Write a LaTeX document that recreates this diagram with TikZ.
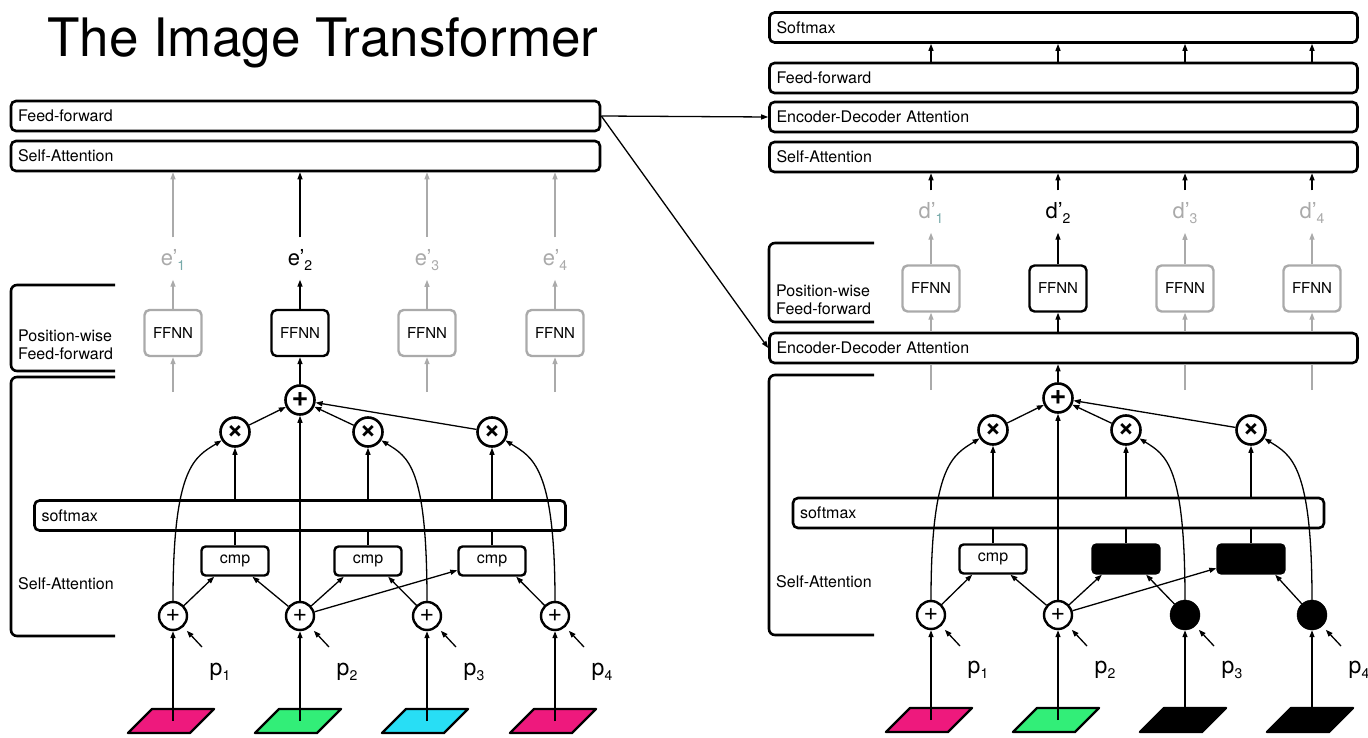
\documentclass[tikz,border=0pt]{standalone}
\usepackage{fontspec}
\setmainfont{TeX Gyre Heros}
\usetikzlibrary{arrows.meta}
\definecolor{lgray}{RGB}{170,170,170}
\definecolor{tealgray}{RGB}{120,170,170}
\definecolor{pink}{RGB}{238,25,125}
\definecolor{lime}{RGB}{50,238,120}
\definecolor{sky}{RGB}{40,222,245}
\newcommand{\sub}[1]{\raisebox{-5pt}{\fontsize{14}{14}\selectfont #1}}

\begin{document}
\begin{tikzpicture}[x=1pt,y=-1pt,
    font=\fontsize{16}{18}\selectfont,
    bar/.style={draw, line width=2.6pt, rounded corners=5pt, minimum height=30pt, text width=#1, inner xsep=7pt, align=left},
    ffnn/.style={draw, line width=2.4pt, rounded corners=5pt, minimum width=57pt, minimum height=46pt, inner sep=0pt, font=\fontsize{15}{15}\selectfont},
    cmpbox/.style={draw, line width=2.4pt, rounded corners=4pt, minimum width=67pt, minimum height=29pt, inner sep=0pt},
    plus/.style={draw, circle, line width=2.4pt, minimum size=28pt, inner sep=0pt, font=\fontsize{25}{25}\selectfont},
    op/.style={draw, circle, line width=2.6pt, minimum size=29pt, inner sep=0pt, font=\fontsize{29}{29}\selectfont\bfseries},
    dot/.style={draw, circle, fill, minimum size=30pt, inner sep=0pt},
    tileline/.style={draw, line width=2.4pt, line join=round},
    bracket/.style={line width=2.6pt, rounded corners=6pt},
    lab/.style={inner sep=0pt, font=\fontsize{22}{22}\selectfont},
    plab/.style={inner sep=0pt, font=\fontsize{23}{23}\selectfont},
    arr/.style={-{Triangle[length=7pt,width=5pt]}, line width=1.3pt},
    garr/.style={arr, lgray},
    ]
    \useasboundingbox (0,0) rectangle (1368,738);

    \node[anchor=base west, inner sep=0pt, font=\fontsize{53}{53}\selectfont] (title) at (47,57) {The Image Transformer};

    % encoder
    \node[bar=575pt] (LFF) at (305.5,116) {Feed-forward};
    \node[bar=575pt] (LSA) at (305.5,156) {Self-Attention};

    \draw[bracket] (115,285) -- (11,285) -- (11,371) -- (115,371);
    \draw[bracket] (115,377) -- (11,377) -- (11,636) -- (115,636);
    \node[anchor=west, align=left, inner sep=0pt] (LPWlab) at (18,345) {Position-wise\\Feed-forward};
    \node[anchor=west, inner sep=0pt] (LSAlab) at (18,584) {Self-Attention};

    \foreach \i/\x/\s in {1/173/tealgray, 3/427/lgray, 4/555/lgray} {
        \node[ffnn, draw=lgray] (Lf\i) at (\x,333) {FFNN};
        \node[lab, lgray] (Le\i) at (\x,260) {e’\sub{\textcolor{\s}{\i}}};
        \coordinate (Ls\i) at (\x,392);
        \draw[garr] (Ls\i) -- (Lf\i);
        \draw[garr, shorten >=9pt] (Lf\i) -- (Le\i);
        \draw[garr, shorten <=12pt] (Le\i) -- (Le\i |- LSA.south);
    }
    \node[ffnn] (Lf2) at (300,333) {FFNN};
    \node[lab] (Le2) at (300,260) {e’\sub{2}};
    \draw[arr, shorten >=9pt] (Lf2) -- (Le2);
    \draw[arr, shorten <=12pt] (Le2) -- (Le2 |- LSA.south);

    \node[op] (Lsum) at (300,400) {+};
    \foreach \i/\x in {1/235, 2/368, 3/492} {
        \node[op] (Lm\i) at (\x,432) {×};
        \node[cmpbox] (Lc\i) at (\x,561) {cmp};
    }
    \node[bar=517pt] (Lsm) at (300,515.5) {softmax};

    \foreach \i/\x/\c in {1/173/pink, 2/300/lime, 3/427/sky, 4/555/pink} {
        \coordinate (Lt\i) at (\x,721);
        \draw[tileline, fill=\c] ([shift={(-45,12)}]Lt\i) -- ++(62,0) -- ++(24,-24) -- ++(-62,0) -- cycle;
        \node[plus] (La\i) at (\x,616) {+};
        \node[plab] (Lp\i) at (\x+47,672) {p\sub{\i}};
        \coordinate (Lq\i) at (\x+29,647);
        \draw[arr] (Lt\i) -- (La\i);
        \draw[arr, shorten >=5pt] (Lq\i) -- (La\i);
    }

    \foreach \i in {1,2,3} {
        \draw[line width=1.3pt] (Lc\i) -- (Lc\i |- Lsm.south);
        \draw[arr] (Lm\i |- Lsm.north) -- (Lm\i);
        \draw[arr] (Lm\i) -- (Lsum);
    }
    \draw[arr] (La2) -- (Lsum);
    \draw[arr] (Lsum) -- (Lf2);
    \draw[arr] (La1) -- (Lc1.-143);
    \draw[arr] (La2) -- (Lc1.-42);
    \draw[arr] (La2) -- (Lc2.-147);
    \draw[arr] (La2) -- (Lc3.-165);
    \draw[arr] (La3) -- (Lc2.-38);
    \draw[arr] (La4) -- (Lc3.-33);
    \draw[arr] (La1) .. controls +(0,-150) and +(-40,25) .. (Lm1);
    \draw[arr] (La3) .. controls +(0,-150) and +(40,25) .. (Lm2);
    \draw[arr] (La4) .. controls +(0,-150) and +(40,25) .. (Lm3);

    % decoder
    \node[bar=574pt] (RSM) at (1063.5,27.5) {Softmax};
    \node[bar=574pt] (RFF) at (1063.5,78) {Feed-forward};
    \node[bar=574pt] (REDt) at (1063.5,117) {Encoder-Decoder Attention};
    \node[bar=574pt] (RSA) at (1063.5,157) {Self-Attention};
    \node[bar=574pt] (REDb) at (1063.5,348) {Encoder-Decoder Attention};

    \draw[bracket] (874,243) -- (769,243) -- (769,322) -- (874,322);
    \draw[bracket] (874,375) -- (769,375) -- (769,635) -- (874,635);
    \node[anchor=west, align=left, inner sep=0pt] (RPWlab) at (776,300) {Position-wise\\Feed-forward};
    \node[anchor=west, inner sep=0pt] (RSAlab) at (776,582) {Self-Attention};

    \foreach \i/\x/\s in {1/931/tealgray, 3/1185/lgray, 4/1312/lgray} {
        \node[ffnn, draw=lgray] (Rf\i) at (\x,288.5) {FFNN};
        \node[lab, lgray] (Rd\i) at (\x,213) {d’\sub{\textcolor{\s}{\i}}};
        \coordinate (Rs\i) at (\x,390);
        \draw[lgray, line width=1.3pt] (Rs\i) -- (Rs\i |- REDb.south);
        \draw[garr] (Rf\i |- REDb.north) -- (Rf\i);
        \draw[garr, shorten >=9pt] (Rf\i) -- (Rd\i);
    }
    \node[ffnn] (Rf2) at (1058,288.5) {FFNN};
    \node[lab] (Rd2) at (1058,213) {d’\sub{2}};
    \draw[arr] (Rf2 |- REDb.north) -- (Rf2);
    \draw[arr, shorten >=9pt] (Rf2) -- (Rd2);
    \foreach \i in {1,...,4} {
        \draw[arr, shorten <=12pt] (Rd\i) -- (Rd\i |- RSA.south);
        \draw[arr] (Rf\i |- RFF.north) -- (Rf\i |- RSM.south);
    }

    \node[op] (Rsum) at (1058,398) {+};
    \foreach \i/\x in {1/993, 2/1126, 3/1251} {
        \node[op] (Rm\i) at (\x,430) {×};
    }
    \node[cmpbox] (Rc1) at (993,559) {cmp};
    \node[cmpbox, fill] (Rc2) at (1126,559) {};
    \node[cmpbox, fill] (Rc3) at (1251,559) {};
    \node[bar=517pt] (Rsm) at (1058.5,513) {softmax};

    \node[plus] (Ra1) at (931,615) {+};
    \node[plus] (Ra2) at (1058,615) {+};
    \node[dot] (Ra3) at (1185,615) {};
    \node[dot] (Ra4) at (1312,615) {};
    \foreach \i/\x/\c in {1/931/pink, 2/1058/lime, 3/1185/black, 4/1312/black} {
        \coordinate (Rt\i) at (\x,720);
        \draw[tileline, fill=\c] ([shift={(-45,12)}]Rt\i) -- ++(62,0) -- ++(24,-24) -- ++(-62,0) -- cycle;
        \node[plab] (Rp\i) at (\x+47,670) {p\sub{\i}};
        \coordinate (Rq\i) at (\x+29,646);
        \draw[arr] (Rt\i) -- (Ra\i);
        \draw[arr, shorten >=5pt] (Rq\i) -- (Ra\i);
    }

    \foreach \i in {1,2,3} {
        \draw[line width=1.3pt] (Rc\i) -- (Rc\i |- Rsm.south);
        \draw[arr] (Rm\i |- Rsm.north) -- (Rm\i);
        \draw[arr] (Rm\i) -- (Rsum);
    }
    \draw[arr] (Ra2) -- (Rsum);
    \draw[arr] (Rsum) -- (REDb.south -| Rsum);
    \draw[arr] (Ra1) -- (Rc1.-143);
    \draw[arr] (Ra2) -- (Rc1.-42);
    \draw[arr] (Ra2) -- (Rc2.-147);
    \draw[arr] (Ra2) -- (Rc3.-165);
    \draw[arr] (Ra3) -- (Rc2.-38);
    \draw[arr] (Ra4) -- (Rc3.-33);
    \draw[arr] (Ra1) .. controls +(0,-150) and +(-40,25) .. (Rm1);
    \draw[arr] (Ra3) .. controls +(0,-150) and +(40,25) .. (Rm2);
    \draw[arr] (Ra4) .. controls +(0,-150) and +(40,25) .. (Rm3);

    % encoder output into decoder
    \draw[arr] (LFF.east) -- (REDt.west);
    \draw[arr] (LFF.east) -- (REDb.west);
\end{tikzpicture}
\end{document}
